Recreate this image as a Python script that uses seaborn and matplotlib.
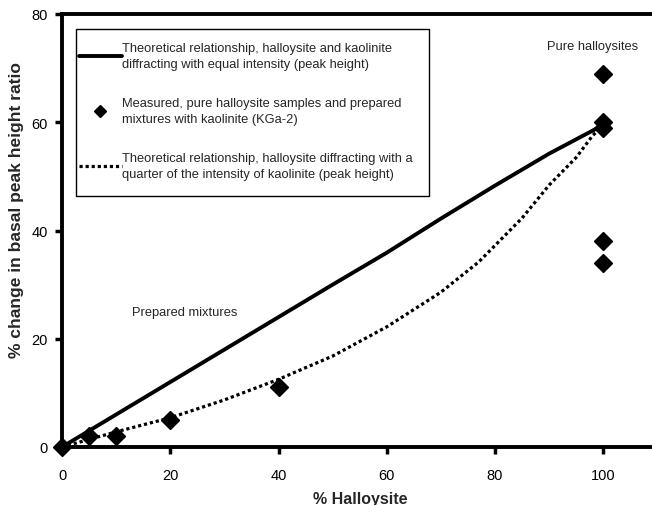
import numpy as np
import pandas as pd
import seaborn as sns
import matplotlib.pyplot as plt
from matplotlib.patches import Rectangle

# Measured halloysite samples and prepared mixtures (% halloysite, % change)
measured_x = [0, 5, 10, 20, 40, 100, 100, 100, 100, 100]
measured_y = [0, 2, 2, 5, 11, 69, 60, 59, 38, 34]

# Theoretical: equal intensity (peak height)
equal_x = [0, 10, 20, 30, 40, 50, 60, 70, 80, 90, 100]
equal_y = [0, 6, 12, 18, 24, 30, 35.9, 42.2, 48.3, 54.2, 59.5]

# Theoretical: halloysite at a quarter of the intensity of kaolinite
quarter_x = [0, 5, 10, 20, 30, 40, 50, 60, 70, 77, 85, 90, 95, 98, 100]
quarter_y = [0, 1.4, 2.8, 5.4, 8.7, 12.5, 16.8, 22.2, 28.6, 34.2, 42.3, 48.4, 53.5, 57.5, 59.5]

lbl_equal = ("Theoretical relationship, halloysite and kaolinite\n"
             "diffracting with equal intensity (peak height)")
lbl_meas = ("Measured, pure halloysite samples and prepared\n"
            "mixtures with kaolinite (KGa-2)")
lbl_quarter = ("Theoretical relationship, halloysite diffracting with a\n"
               "quarter of the intensity of kaolinite (peak height)")

sns.set_style("ticks")
plt.rcParams['font.family'] = ['Liberation Sans', 'DejaVu Sans']

W, H = 652, 506
fig = plt.figure(figsize=(W / 100, H / 100), dpi=100)
ax = fig.add_axes([62 / W, 1 - 448 / H, 1 - 62 / W, 433 / H])

df_eq = pd.DataFrame({'x': equal_x, 'y': equal_y})
df_q = pd.DataFrame({'x': quarter_x, 'y': quarter_y})

sns.lineplot(data=df_eq, x='x', y='y', ax=ax, color='black', linewidth=2.8,
             label=lbl_equal, zorder=3)
sns.lineplot(data=df_q, x='x', y='y', ax=ax, color='black', linewidth=2.3,
             linestyle=(0, (1.0, 0.9)), label=lbl_quarter, zorder=3)
ax.plot(measured_x, measured_y, linestyle='none', marker='D', markersize=9,
        color='black', label=lbl_meas, zorder=4, clip_on=False)

ax.set_xlim(0, 109)
ax.set_ylim(0, 80)
ax.set_xticks([0, 20, 40, 60, 80, 100])
ax.set_yticks([0, 20, 40, 60, 80])
ax.tick_params(axis='both', direction='out', length=5, width=2.5,
               labelsize=10.5, color='black', labelcolor='black')
ax.tick_params(axis='x', pad=10)
ax.tick_params(axis='y', pad=5)
for side in ['left', 'bottom', 'top']:
    ax.spines[side].set_linewidth(2.8)
    ax.spines[side].set_color('black')
ax.spines['right'].set_visible(False)

ax.set_xlabel('% Halloysite', fontsize=11.5, fontweight='bold')
ax.xaxis.set_label_coords((360 - 62) / 590, (448 - 492) / 433)
ax.set_ylabel('% change in basal peak height ratio', fontsize=12.5,
              fontweight='bold')
ax.yaxis.set_label_coords((24 - 62) / 590, (448 - 210) / 433)

ax.text(98, 74, 'Pure halloysites', fontsize=9.3, ha='center', va='center')
ax.text(22.7, 25.0, 'Prepared mixtures', fontsize=9.3, ha='center', va='center')

handles, labels = ax.get_legend_handles_labels()
order = [labels.index(lbl_equal), labels.index(lbl_meas), labels.index(lbl_quarter)]
leg = ax.legend([handles[i] for i in order], [labels[i] for i in order],
                loc='upper left', bbox_to_anchor=((79 - 62) / 590, (448 - 43) / 433),
                fontsize=9.3, frameon=False, handlelength=3.3, handletextpad=0.05,
                labelspacing=2.1, borderpad=0, markerscale=0.65,
                borderaxespad=0)
for t in leg.get_texts():
    t.set_linespacing(1.45)
leg.set_zorder(7)

# legend frame as in the original (square box)
box = Rectangle((76 / W, 1 - 197 / H), (429 - 76) / W, (197 - 30) / H,
                transform=fig.transFigure, facecolor='white',
                edgecolor='black', linewidth=1.0, zorder=6)
ax.add_patch(box)

fig.savefig('out.png', dpi=100)
